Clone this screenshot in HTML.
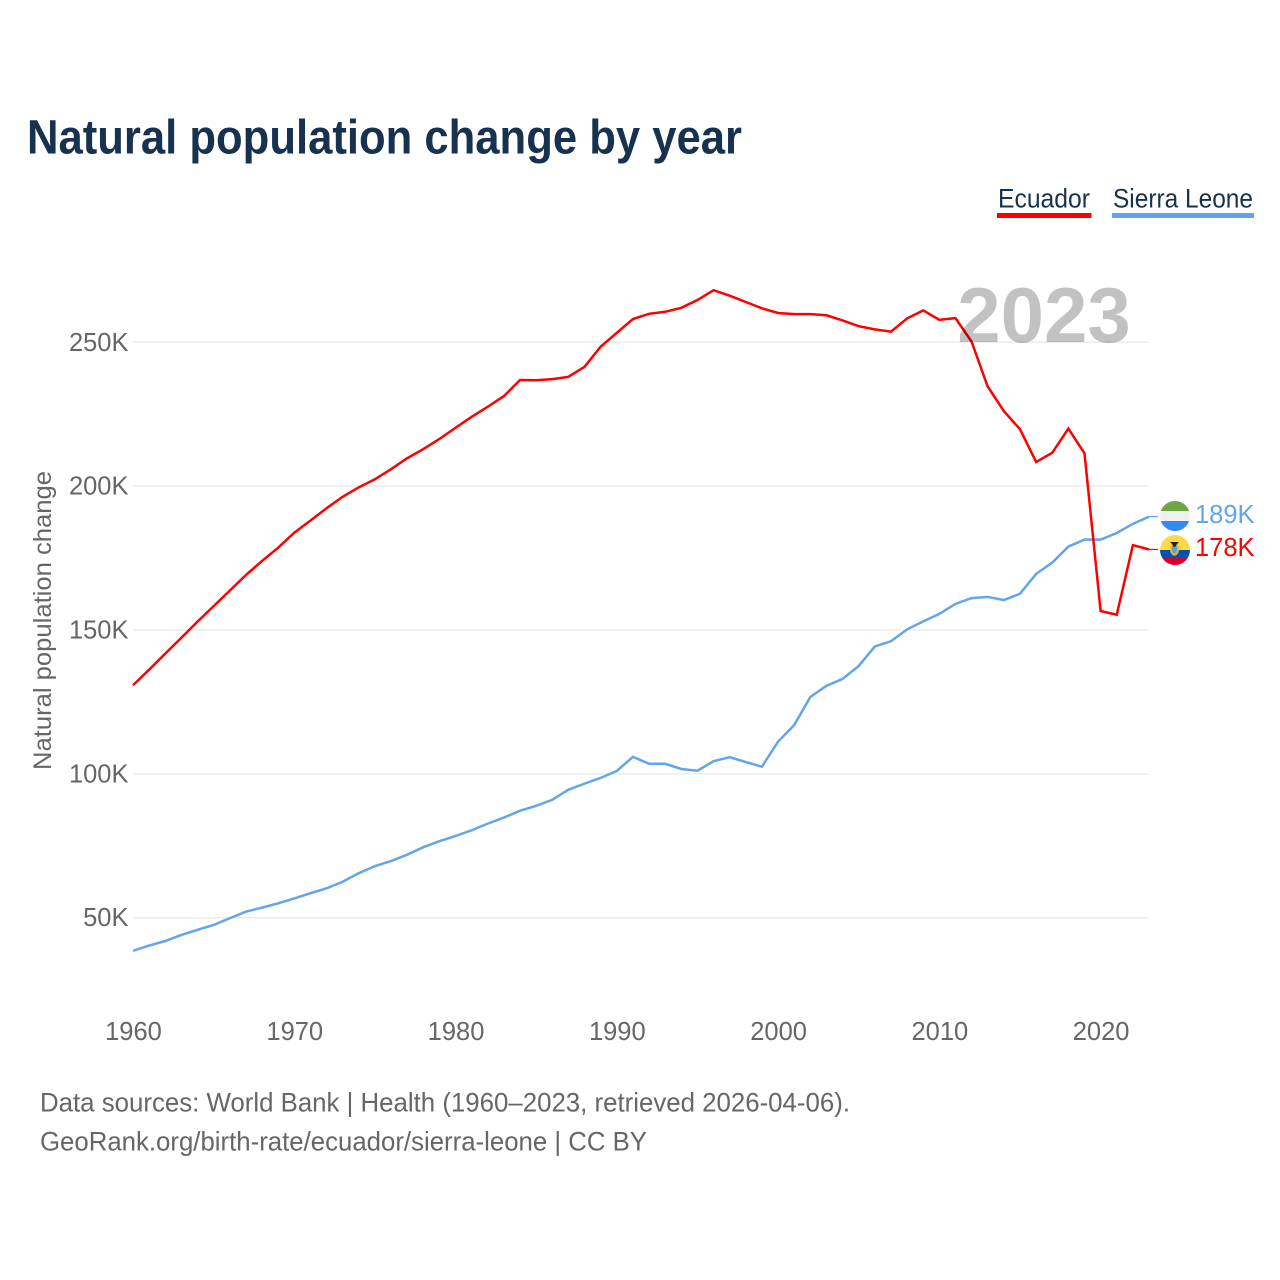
<!DOCTYPE html>
<html lang="en">
<head>
<meta charset="utf-8">
<title>Natural population change by year</title>
<style>
  html, body { margin: 0; padding: 0; background: #fff; }
  svg { display: block; font-family: "Liberation Sans", sans-serif; }
</style>
</head>
<body>
<svg id="chart" xmlns="http://www.w3.org/2000/svg" width="1280" height="1280" viewBox="0 0 1280 1280">
  <rect width="1280" height="1280" fill="#ffffff"/>
  <text x="27" y="153.5" font-size="48" font-weight="700" fill="#16324f" textLength="715" lengthAdjust="spacingAndGlyphs">Natural population change by year</text>

  <g>
    <g>
      <text x="998" y="207.5" font-size="27" fill="#16324f" textLength="92" lengthAdjust="spacingAndGlyphs">Ecuador</text>
      <rect x="997" y="213" width="94.5" height="5" fill="#ff0000"/>
    </g>
    <g>
      <text x="1113" y="207.5" font-size="27" fill="#16324f" textLength="140" lengthAdjust="spacingAndGlyphs">Sierra Leone</text>
      <rect x="1112" y="213" width="142" height="5" fill="#62a5ea"/>
    </g>
  </g>

  <g id="grid"></g>
  <g id="yticks"></g>
  <g id="xticks"></g>
  <text transform="translate(51 620.5) rotate(-90)" text-anchor="middle" font-size="25" fill="#666666" textLength="299" lengthAdjust="spacingAndGlyphs">Natural population change</text>

  <g id="series"></g>

  <text x="1044" y="342" text-anchor="middle" font-size="78" font-weight="700" fill="#000000" fill-opacity="0.24">2023</text>

  <g>
    <clipPath id="clip-sl"><circle cx="1175" cy="516" r="15"/></clipPath>
    <g clip-path="url(#clip-sl)">
      <rect x="1160" y="501" width="30" height="10" fill="#6da544"/>
      <rect x="1160" y="511" width="30" height="10" fill="#f0f0f0"/>
      <rect x="1160" y="521" width="30" height="10" fill="#338af3"/>
    </g>
  </g>
  <g>
    <clipPath id="clip-ec"><circle cx="1175" cy="550" r="15"/></clipPath>
    <g clip-path="url(#clip-ec)">
      <rect x="1160" y="535" width="30" height="15" fill="#ffda44"/>
      <rect x="1160" y="550" width="30" height="7.5" fill="#0052b4"/>
      <rect x="1160" y="557.5" width="30" height="7.5" fill="#d80027"/>
    </g>
    <ellipse cx="1174.5" cy="549" rx="3.6" ry="5.6" fill="#5c9ddc" stroke="#e8b830" stroke-width="2"/>
    <path d="M1170 542h9l-2.5 2.5-1 2.2h-2l-1-2.2z" fill="#222222"/>
  </g>
  <g id="endlabels"></g>

  <text x="40" y="1111.5" font-size="27" fill="#666666" textLength="810" lengthAdjust="spacingAndGlyphs">Data sources: World Bank | Health (1960–2023, retrieved 2026-04-06).</text>
  <text x="40" y="1150.5" font-size="27" fill="#666666" textLength="607" lengthAdjust="spacingAndGlyphs">GeoRank.org/birth-rate/ecuador/sierra-leone | CC BY</text>
</svg>

<script>
const startYear = 1960;
const xTickYears = [1960, 1970, 1980, 1990, 2000, 2010, 2020];
const yTickValues = [50, 100, 150, 200, 250];
const ecuadorValues = [
  130.8,136.2,141.8,147.3,152.9,158.3,163.7,169.1,174.0,178.6,
  183.8,188.0,192.3,196.3,199.6,202.4,205.9,209.7,212.9,216.4,
  220.3,224.1,227.6,231.3,236.9,236.8,237.2,238.0,241.5,248.5,
  253.3,258.1,259.9,260.6,262.0,264.7,268.1,266.2,264.0,261.8,
  260.2,259.8,259.8,259.4,257.6,255.6,254.5,253.7,258.3,261.1,
  257.8,258.4,250.2,234.6,226.1,219.8,208.4,211.6,220.0,211.4,
  156.6,155.3,179.5,178.0
];
const sierraLeoneValues = [
  38.5,40.3,41.9,44.0,45.8,47.5,49.8,52.1,53.5,55.0,
  56.7,58.5,60.2,62.5,65.5,67.9,69.7,71.9,74.5,76.6,
  78.4,80.4,82.7,84.8,87.2,88.9,91.0,94.5,96.6,98.6,
  101.0,105.9,103.5,103.5,101.7,101.1,104.4,105.8,104.1,102.5,
  111.2,117.0,126.7,130.6,133.0,137.5,144.3,146.1,150.2,153.0,
  155.6,159.1,161.1,161.5,160.4,162.6,169.5,173.4,179.0,181.4,
  181.4,183.7,186.9,189.4
];

const NS = 'http://www.w3.org/2000/svg';
const RED = '#ff0000';
const BLUE = '#62a5ea';
const xScale = year => 133 + (year - 1960) * (1016 / 63);
const yScale = value => 1061.55 - value * 2.877;
const fmtK = value => Math.round(value) + 'K';

function make(tag, attrs, parent, text) {
  const el = document.createElementNS(NS, tag);
  for (const k in attrs) el.setAttribute(k, attrs[k]);
  if (text !== undefined) el.textContent = text;
  parent.appendChild(el);
  return el;
}

const grid = document.getElementById('grid');
const yticks = document.getElementById('yticks');
const xticks = document.getElementById('xticks');
const series = document.getElementById('series');
const endlabels = document.getElementById('endlabels');

yTickValues.forEach(v => {
  const line = make('line', { x1: 133, x2: 1149, y1: yScale(v), y2: yScale(v), stroke: '#ececec', 'stroke-width': 1.5 }, grid);
  
  
  const label = make('text', { x: 128.5, y: yScale(v) + 8.5, 'text-anchor': 'end', 'font-size': 25.5, fill: '#666666' }, yticks, v + 'K');
  
  
});

xTickYears.forEach(y => {
  const label = make('text', { x: xScale(y) + 0.5, y: 1040, 'text-anchor': 'middle', 'font-size': 25.5, fill: '#666666' }, xticks, String(y));
  
  
});

function drawSeries(values, color, name, labelName, stubName) {
  const pts = values.map((v, i) => xScale(startYear + i).toFixed(2) + ',' + yScale(v).toFixed(2));
  const line = make('polyline', { points: pts.join(' '), fill: 'none', stroke: color, 'stroke-width': 2.5, 'stroke-linejoin': 'miter' }, series);
  
  
  const last = values[values.length - 1];
  const lastX = xScale(startYear + values.length - 1);
  const stub = make('line', { x1: lastX, x2: lastX + 9, y1: yScale(last), y2: yScale(last), stroke: color, 'stroke-width': 1.2 }, series);
  
  
  const label = make('text', { x: 1195, y: yScale(last) + 6.5, 'font-size': 25.5, fill: color }, endlabels, fmtK(last));
  
  
}

drawSeries(sierraLeoneValues, BLUE, 'series-line-sierra-leone', 'end-label-sierra-leone', 'end-stub-sierra-leone');
drawSeries(ecuadorValues, RED, 'series-line-ecuador', 'end-label-ecuador', 'end-stub-ecuador');
</script>
</body>
</html>
